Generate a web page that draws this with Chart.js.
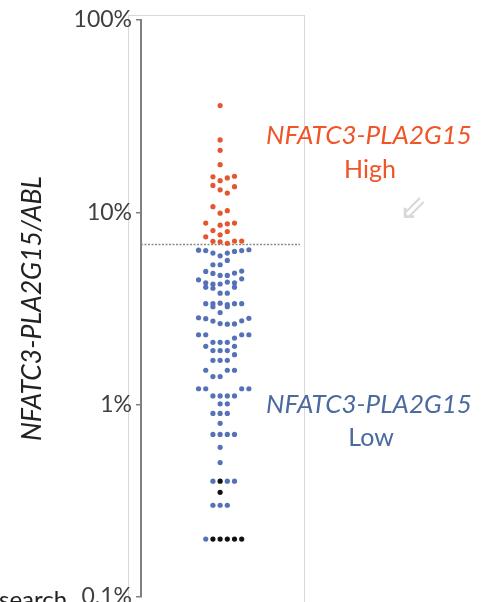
<!DOCTYPE html>
<html>
<head>
<meta charset="utf-8">
<script src="https://cdn.jsdelivr.net/npm/chart.js@4"></script>
<style>
  html, body { margin: 0; padding: 0; background: #fff; }
</style>
</head>
<body>
<canvas id="grafico" width="482" height="602"></canvas>
<script>
// valores (% NFATC3-PLA2G15/ABL), una fila del enjambre por lista, de izquierda a derecha
const filas = [
  [35.9],
  [23.8],
  [21.0],
  [17.7],
  [15.3, 14.6, 15.1, 15.4],
  [13.8, 13.1, 12.6, 13.6],
  [10.7, 9.9, 10.2],
  [8.79, 8.04, 8.58, 8.71, 8.79],
  [7.64, 7.95],
  [7.46, 7.07, 7.03, 6.9, 7.09, 7.09],
  [6.36, 6.33, 6.14, 5.94, 6.14, 6.26, 6.33, 6.39],
  [5.34, 5.34, 5.62],
  [4.93, 4.81, 4.70, 4.70, 4.83, 4.95],
  [4.46, 4.30, 4.23, 4.24, 4.34, 4.30, 4.51],
  [4.08, 4.03, 3.80, 3.80, 4.08],
  [3.35, 3.35, 3.37, 3.31, 3.35, 3.35],
  [3.23, 3.01, 3.23],
  [2.83, 2.80, 2.72, 2.64, 2.62, 2.63, 2.73, 2.81],
  [2.31, 2.31, 2.11, 2.11, 2.11, 2.22, 2.31, 2.31],
  [2.01, 1.91, 1.91, 1.91, 2.01],
  [1.70, 1.70, 1.70, 1.82],
  [1.51, 1.40, 1.40, 1.51, 1.51],
  [1.21, 1.21, 1.11, 1.11, 1.11, 1.11, 1.21, 1.21],
  [1.01, 1.01],
  [0.90, 0.90, 0.90],
  [0.80],
  [0.70, 0.70, 0.70, 0.70],
  [0.60],
  [0.50],
  [0.40, 0.40, 0.40, 0.40],
  [0.35],
  [0.30, 0.30, 0.30],
  [0.20, 0.20, 0.20, 0.20, 0.20, 0.20],
];

// puntos negros: [fila, posicion]
const noDetectados = [[29, 1], [30, 0], [32, 1], [32, 2], [32, 3], [32, 4], [32, 5]];

const umbral = 6.8;
const tickValores = [0.1, 1, 10, 100];
const tickTextos = ["0.1%", "1%", "10%", "100%"];
const tituloY = "NFATC3-PLA2G15/ABL";

// armar datasets
const altos = [];
const bajos = [];
const negros = [];
filas.forEach((fila, f) => {
  const inicio = -Math.floor((fila.length - 1) / 2);
  fila.forEach((v, i) => {
    const p = { x: inicio + i, y: v };
    if (noDetectados.some((n) => n[0] === f && n[1] === i)) negros.push(p);
    else if (v >= umbral) altos.push(p);
    else bajos.push(p);
  });
});

// marco gris y textos
const extras = {
  id: "extras",
  beforeDraw(chart) {
    const ctx = chart.ctx;
    ctx.save();
    ctx.strokeStyle = "#d9d9d9";
    ctx.lineWidth = 1;
    ctx.strokeRect(128.5, 15.5, 176, 600);
    ctx.restore();
  },
  afterDraw(chart) {
    const ctx = chart.ctx;
    ctx.save();
    ctx.textAlign = "center";
    ctx.textBaseline = "middle";
    ctx.font = "italic 26px Lato";
    ctx.fillStyle = "#ef5527";
    ctx.fillText("NFATC3-PLA2G15", 369, 136);
    ctx.font = "25px Lato";
    ctx.fillText("High", 370, 170);
    ctx.font = "italic 26px Lato";
    ctx.fillStyle = "#4a6aa0";
    ctx.fillText("NFATC3-PLA2G15", 369, 405);
    ctx.font = "25px Lato";
    ctx.fillText("Low", 371, 438);
    ctx.font = "34px 'DejaVu Sans'";
    ctx.fillStyle = "#d8d8d8";
    ctx.fillText("\u21D9", 413, 210);
    ctx.textAlign = "left";
    ctx.textBaseline = "alphabetic";
    ctx.font = "24px Lato";
    ctx.fillStyle = "#222";
    ctx.fillText("search.", -1, 608);
    ctx.restore();
  },
};

const ctx = document.getElementById("grafico").getContext("2d");
new Chart(ctx, {
  type: "scatter",
  data: {
    datasets: [
      { label: "High", data: altos, backgroundColor: "#e4572e", pointRadius: 2.6, borderWidth: 0, order: 1 },
      { label: "Low", data: bajos, backgroundColor: "#5572b8", pointRadius: 2.6, borderWidth: 0, order: 1 },
      { label: "ND", data: negros, backgroundColor: "#111111", pointRadius: 2.6, borderWidth: 0, order: 1 },
      {
        type: "line",
        label: "umbral",
        data: [{ x: -11, y: umbral }, { x: 11.1, y: umbral }],
        borderColor: "#8a8a8a",
        borderWidth: 1.5,
        borderDash: [2, 1.5],
        pointRadius: 0,
        order: 10,
      },
    ],
  },
  options: {
    responsive: false,
    animation: false,
    layout: { padding: { left: 0, right: 177, top: 20, bottom: 5 } },
    plugins: { legend: { display: false }, tooltip: { enabled: false } },
    scales: {
      x: { type: "linear", min: -11, max: 11.8, display: false },
      y: {
        type: "logarithmic",
        min: 0.1,
        max: 100,
        afterBuildTicks: (s) => {
          s.ticks = tickValores.map((v) => ({ value: v }));
        },
        afterFit: (s) => {
          s.width = 141;
          s.paddingTop = 0;
          s.paddingBottom = 0;
        },
        ticks: {
          callback: (v, i) => tickTextos[i],
          font: { family: "Lato", size: 23 },
          color: "#404040",
          padding: 4,
        },
        grid: { drawOnChartArea: false, drawTicks: true, tickLength: 5, color: "#808080", lineWidth: 1.5 },
        border: { display: true, color: "#808080", width: 2 },
        title: {
          display: true,
          text: tituloY,
          font: { family: "Lato", size: 26.5, style: "italic" },
          color: "#222",
          padding: { top: 17, bottom: 0 },
        },
      },
    },
  },
  plugins: [extras],
});
</script>
</body>
</html>
